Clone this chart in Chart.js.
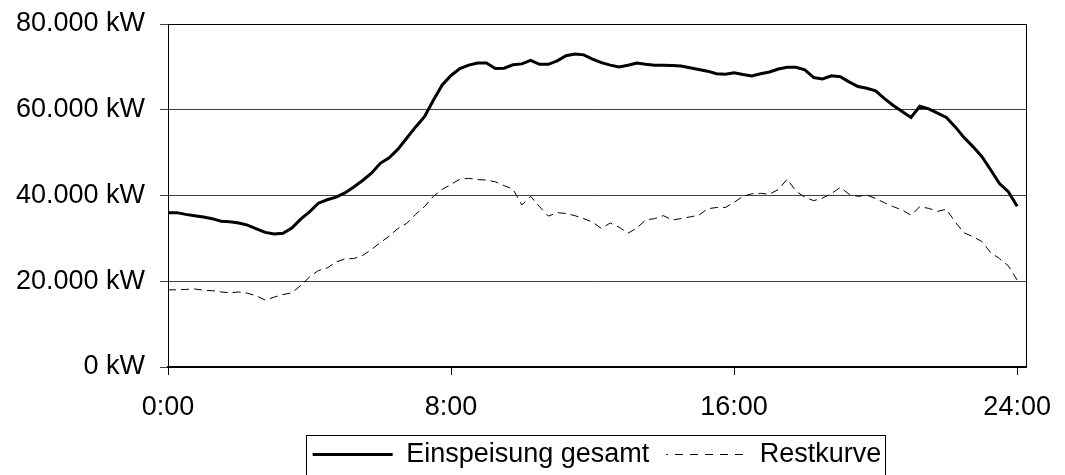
<!DOCTYPE html>
<html>
<head>
<meta charset="utf-8">
<script src="https://cdn.jsdelivr.net/npm/chart.js@4.4.1/dist/chart.umd.min.js"></script>
<style>
  html, body { margin: 0; background: #fff; }
  #wrap { width: 1065px; height: 475px; }
</style>
</head>
<body>
<div id="wrap"><canvas id="lastgang"></canvas></div>
<script>
// 15-minute steps, one spare slot at the end so the frame runs past 24:00
const times = [
  '0:00','0:15','0:30','0:45','1:00','1:15','1:30','1:45','2:00','2:15','2:30','2:45',
  '3:00','3:15','3:30','3:45','4:00','4:15','4:30','4:45','5:00','5:15','5:30','5:45',
  '6:00','6:15','6:30','6:45','7:00','7:15','7:30','7:45','8:00','8:15','8:30','8:45',
  '9:00','9:15','9:30','9:45','10:00','10:15','10:30','10:45','11:00','11:15','11:30','11:45',
  '12:00','12:15','12:30','12:45','13:00','13:15','13:30','13:45','14:00','14:15','14:30','14:45',
  '15:00','15:15','15:30','15:45','16:00','16:15','16:30','16:45','17:00','17:15','17:30','17:45',
  '18:00','18:15','18:30','18:45','19:00','19:15','19:30','19:45','20:00','20:15','20:30','20:45',
  '21:00','21:15','21:30','21:45','22:00','22:15','22:30','22:45','23:00','23:15','23:30','23:45',
  '24:00','24:15'
];

// Einspeisung gesamt (kW)
const einspeisung = [
  36000, 36000, 35600, 35300, 35000, 34600, 34000, 33900, 33600, 33100, 32200, 31400,
  31000, 31200, 32400, 34500, 36200, 38200, 39000, 39600, 40600, 42000, 43500, 45200,
  47500, 48800, 50800, 53400, 56000, 58400, 62200, 65800, 68000, 69600, 70400, 70900,
  70900, 69600, 69700, 70500, 70700, 71500, 70600, 70600, 71400, 72600, 73000, 72800,
  71800, 71000, 70400, 70000, 70400, 70900, 70600, 70400, 70400, 70300, 70200, 69800,
  69400, 69000, 68400, 68300, 68600, 68200, 67900, 68400, 68800, 69500, 69900, 69900,
  69300, 67500, 67200, 67900, 67700, 66500, 65400, 65000, 64400, 62600, 61000, 59600,
  58200, 60800, 60200, 59200, 58200, 56000, 53500, 51400, 49100, 46000, 42800, 40900,
  37500
];

// Restkurve (kW)
const restkurve = [
  18000, 18000, 18100, 18200, 17900, 17800, 17500, 17300, 17500, 17200, 16600, 15600,
  16300, 16900, 17300, 19000, 21000, 22500, 23100, 24500, 25200, 25300, 26000, 27400,
  29000, 30500, 32300, 33500, 35600, 37400, 39800, 41400, 42600, 43800, 44000, 43700,
  43600, 43200, 42300, 41500, 37800, 39800, 37400, 35200, 36000, 35800, 35300, 34600,
  33800, 32300, 33600, 32600, 31200, 32400, 34300, 34600, 35300, 34300, 34600, 35000,
  35400, 36900, 37200, 37200, 38400, 39800, 40400, 40500, 40300, 41400, 43800, 41000,
  39600, 38800, 39400, 40400, 41900, 40300, 39800, 40100, 39300, 38300, 37400, 36600,
  35400, 37400, 37000, 36300, 36800, 33800, 31300, 30400, 29300, 26700, 25300, 23600,
  20300
];

const xTickLabels = ['0:00', '8:00', '16:00', '24:00'];
const yTickLabels = ['0 kW', '20.000 kW', '40.000 kW', '60.000 kW', '80.000 kW'];

const FONT = { family: '"Liberation Sans", Arial, sans-serif', size: 27 };

// dashed swatch for the legend (pointStyle 'line' draws dashes back over themselves)
const swatch = document.createElement('canvas');
swatch.width = 15;
swatch.height = 3;
const sctx = swatch.getContext('2d');
sctx.fillStyle = '#000';
sctx.fillRect(0, 1, 8, 1);
const dashFill = sctx.createPattern(swatch, 'repeat');

// frame round the plot area (Excel style)
const plotFrame = {
  id: 'plotFrame',
  afterDatasetsDraw(chart) {
    const { left, top, right, bottom } = chart.chartArea;
    const ctx = chart.ctx;
    ctx.save();
    ctx.strokeStyle = '#000';
    ctx.lineWidth = 1;
    ctx.strokeRect(Math.round(left) + 0.5, Math.round(top) + 0.5,
      Math.round(right - left), Math.round(bottom - top));
    ctx.restore();
  }
};

// box round the legend, cut off by the bottom of the picture
const legendFrame = {
  id: 'legendFrame',
  afterDraw(chart) {
    const boxes = chart.legend && chart.legend.legendHitBoxes;
    if (!boxes || !boxes.length) return;
    const first = boxes[0];
    const last = boxes[boxes.length - 1];
    const x0 = Math.round(first.left - 7);
    const x1 = Math.round(last.left + last.width + 4);
    const y0 = Math.round(first.top - 6);
    const ctx = chart.ctx;
    ctx.save();
    ctx.strokeStyle = '#000';
    ctx.lineWidth = 1;
    ctx.strokeRect(x0 + 0.5, y0 + 0.5, x1 - x0, 80);
    ctx.restore();
  }
};

new Chart(document.getElementById('lastgang'), {
  type: 'line',
  data: {
    labels: times,
    datasets: [
      {
        label: 'Einspeisung gesamt',
        data: einspeisung,
        borderColor: '#000',
        backgroundColor: '#000',
        borderWidth: 3,
        pointRadius: 0,
        tension: 0,
        fill: false
      },
      {
        label: 'Restkurve',
        data: restkurve,
        borderColor: '#000',
        backgroundColor: '#000',
        borderWidth: 1,
        borderDash: [8, 5],
        pointRadius: 0,
        tension: 0,
        fill: false
      }
    ]
  },
  options: {
    responsive: true,
    maintainAspectRatio: false,
    animation: false,
    layout: { padding: { left: 0, right: 39, top: 24, bottom: -3 } },
    plugins: {
      tooltip: { enabled: false },
      legend: {
        position: 'bottom',
        fullSize: false,
        labels: {
          color: '#000',
          font: FONT,
          boxWidth: 80,
          boxHeight: 3,
          padding: 17,
          generateLabels(chart) {
            const items = Chart.defaults.plugins.legend.labels.generateLabels(chart);
            items[0].fillStyle = '#000';
            items[0].lineWidth = 0;
            items[1].fillStyle = dashFill;
            items[1].lineWidth = 0;
            return items;
          }
        }
      }
    },
    scales: {
      x: {
        type: 'category',
        offset: false,
        grid: { drawOnChartArea: false, drawTicks: true, tickLength: 8, color: '#000' },
        border: { display: true, color: '#000', width: 2 },
        ticks: {
          autoSkip: false,
          maxRotation: 0,
          color: '#000',
          font: FONT,
          padding: 16,
          callback: function (value) {
            const lbl = this.getLabelForValue(value);
            return xTickLabels.includes(lbl) ? lbl : null;
          }
        },
        afterFit: (scale) => {
          scale.height = 57;
          scale.paddingLeft = 0;
          scale.paddingRight = 0;
        }
      },
      y: {
        min: 0,
        max: 80000,
        grid: { color: '#404040', lineWidth: 1, drawTicks: true, tickLength: 8 },
        border: { display: true, color: '#000', width: 1 },
        ticks: {
          stepSize: 20000,
          color: '#000',
          font: FONT,
          padding: 15,
          callback: (value, i) => yTickLabels[i]
        },
        afterFit: (scale) => {
          scale.width = 168;
          scale.paddingTop = 0;
          scale.paddingBottom = 0;
        }
      }
    }
  },
  plugins: [plotFrame, legendFrame]
});
</script>
</body>
</html>
